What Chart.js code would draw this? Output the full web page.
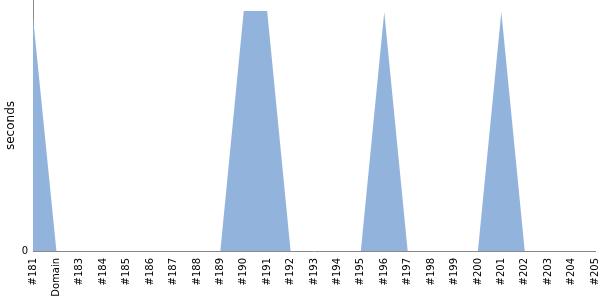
<!DOCTYPE html>
<html>
<head>
<meta charset="utf-8">
<script src="https://cdn.jsdelivr.net/npm/chart.js@4"></script>
<style>
  body { margin: 0; background: #fff; }
  #wrap { width: 600px; height: 300px; }
</style>
</head>
<body>
<div id="wrap"><canvas id="chart"></canvas></div>
<script>
const labels = ['#181', 'Domain', '#183', '#184', '#185', '#186', '#187', '#188', '#189', '#190',
  '#191', '#192', '#193', '#194', '#195', '#196', '#197', '#198', '#199', '#200',
  '#201', '#202', '#203', '#204', '#205'];
const seconds = [93.2, 0, 0, 0, 0, 0, 0, 0, 0, 95.6,
  95.6, 0, 0, 0, 0, 95.2, 0, 0, 0, 0,
  95.2, 0, 0, 0, 0];
const yTicks = [0];

const ctx = document.getElementById('chart');
new Chart(ctx, {
  type: 'line',
  data: {
    labels: labels,
    datasets: [{
      label: 'seconds',
      data: seconds,
      fill: 'origin',
      backgroundColor: '#92b3db',
      borderWidth: 0,
      pointRadius: 0,
      tension: 0
    }]
  },
  options: {
    responsive: true,
    maintainAspectRatio: false,
    animation: false,
    layout: { padding: 0 },
    plugins: {
      legend: { display: false },
      tooltip: { enabled: false }
    },
    scales: {
      x: {
        offset: false,
        grid: { display: false, drawTicks: false },
        border: { display: true, color: '#888' },
        afterFit: (axis) => {
          axis.height = 49;
          axis.paddingLeft = 0;
          axis.paddingRight = 5;
        },
        ticks: {
          autoSkip: false,
          maxRotation: 90,
          minRotation: 90,
          color: '#000',
          padding: 7,
          font: { family: 'DejaVu Sans', size: 10 }
        }
      },
      y: {
        min: 0,
        max: 100,
        grid: { display: false, drawTicks: false },
        border: { display: true, color: '#888' },
        afterBuildTicks: (axis) => {
          axis.ticks = yTicks.map(v => ({ value: v }));
        },
        afterFit: (axis) => {
          axis.width = 33;
          axis.paddingTop = 0;
          axis.paddingBottom = 0;
        },
        ticks: {
          color: '#000',
          padding: 5,
          font: { family: 'DejaVu Sans', size: 10 }
        },
        title: {
          display: true,
          text: 'seconds',
          color: '#000',
          padding: 4,
          font: { family: 'DejaVu Sans', size: 12 }
        }
      }
    }
  }
});
</script>
</body>
</html>
